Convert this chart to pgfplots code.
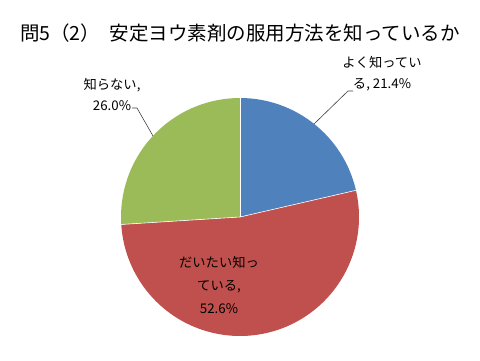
\documentclass[border=0pt]{standalone}
\usepackage{pgfplots}
\pgfplotsset{compat=1.18}
\usepackage{pgfplotstable}
\usepackage{fontspec}
\setmainfont{Noto Sans CJK JP}
\definecolor{cblue}{HTML}{4F81BD}
\definecolor{cred}{HTML}{C0504D}
\definecolor{cgreen}{HTML}{9BBB59}
\pgfplotstableread{
idx value
0 21.4
1 52.6
2 26.0
}\piedata
\pgfplotstablegetelem{0}{value}\of\piedata \let\va\pgfplotsretval
\pgfplotstablegetelem{1}{value}\of\piedata \let\vb\pgfplotsretval
\pgfplotstablegetelem{2}{value}\of\piedata \let\vc\pgfplotsretval
\pgfmathsetmacro\aA{90}
\pgfmathsetmacro\aB{90-3.6*\va}
\pgfmathsetmacro\aC{\aB-3.6*\vb}
\pgfmathsetmacro\aD{\aC-3.6*\vc}
\begin{document}
\begin{tikzpicture}
\begin{axis}[x=1pt,y=1pt,xmin=0,xmax=480,ymin=0,ymax=360,hide axis,clip=false,scale only axis,disabledatascaling]
\path[draw=none,fill=none] (axis cs:0,0) rectangle (axis cs:480,360);
\fill[cblue] (axis cs:240,143) -- ++(\aA:119pt) arc[start angle=\aA,end angle=\aB,radius=119pt] -- cycle;
\fill[cred] (axis cs:240,143) -- ++(\aB:119pt) arc[start angle=\aB,end angle=\aC,radius=119pt] -- cycle;
\fill[cgreen] (axis cs:240,143) -- ++(\aC:119pt) arc[start angle=\aC,end angle=\aD,radius=119pt] -- cycle;
\draw[white,line width=0.6pt] (axis cs:240,143) -- ++(\aA:119pt);
\draw[white,line width=0.6pt] (axis cs:240,143) -- ++(\aB:119pt);
\draw[white,line width=0.6pt] (axis cs:240,143) -- ++(\aC:119pt);
\draw[black!75,line width=0.6pt] (axis cs:314,236) -- (axis cs:348,269) -- (axis cs:353,269);
\draw[black!75,line width=0.6pt] (axis cs:153,224) -- (axis cs:137,252) -- (axis cs:132,252);
\node[font=\fontsize{19.5}{21}\selectfont] at (axis cs:240,327) {問5（2）\hspace{0.5em}安定ヨウ素剤の服用方法を知っているか};
\node[font=\fontsize{13.3}{21}\selectfont,align=center] at (axis cs:382,286) {よく知ってい\\る, 21.4\%};
\node[font=\fontsize{13.3}{21}\selectfont,align=center] at (axis cs:112,266) {知らない,\\26.0\%};
\node[font=\fontsize{13.3}{23}\selectfont,align=center] at (axis cs:219,75) {だいたい知っ\\ている,\\52.6\%};
\end{axis}
\end{tikzpicture}
\end{document}
